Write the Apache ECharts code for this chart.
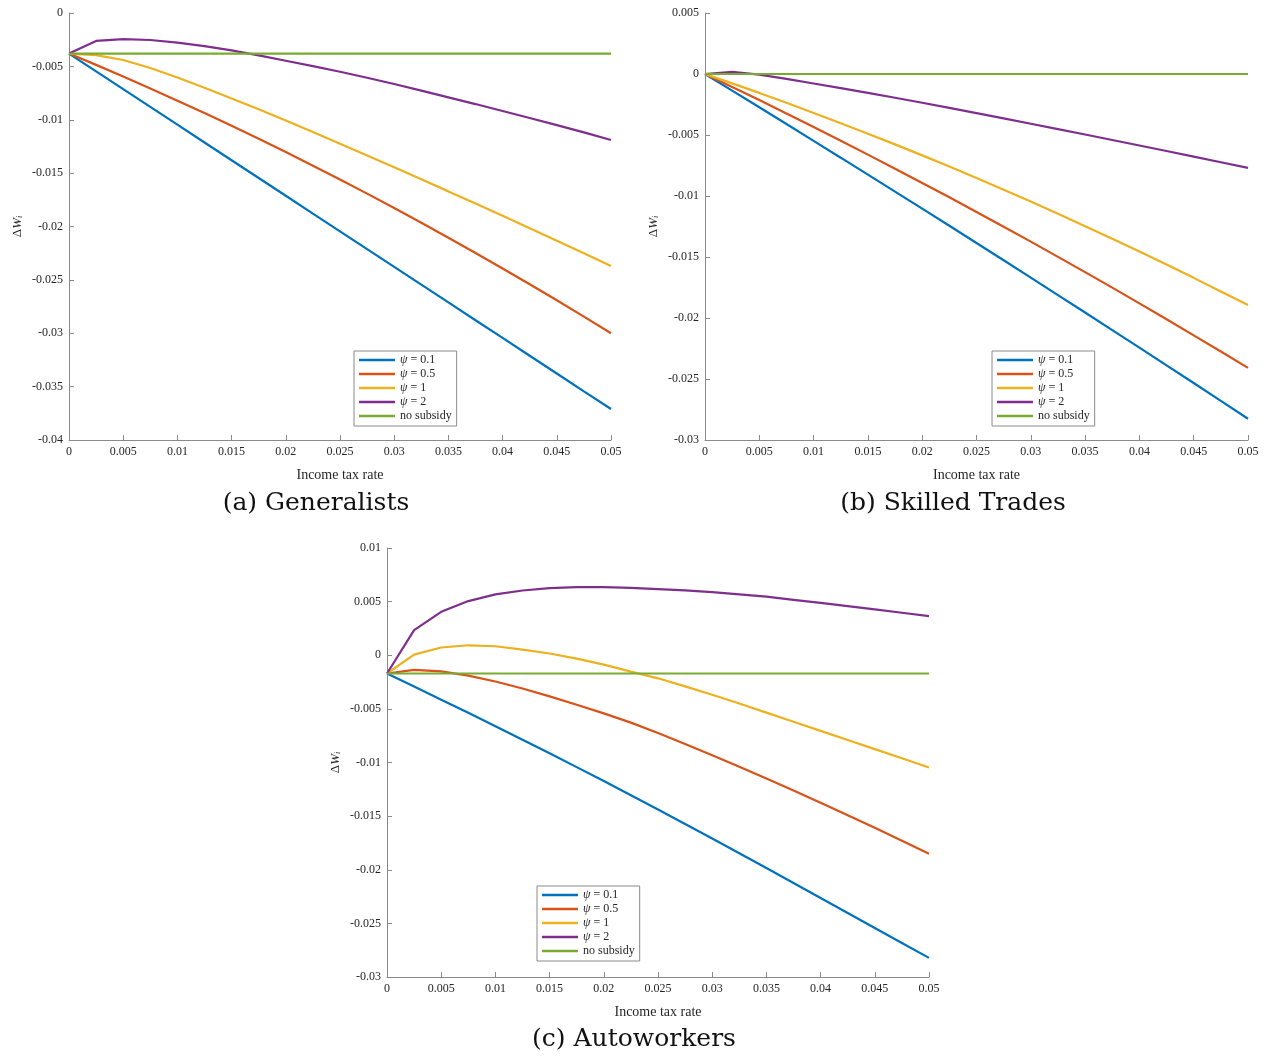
<!DOCTYPE html>
<html>
<head>
<meta charset="utf-8">
<script src="https://cdn.jsdelivr.net/npm/echarts@6/dist/echarts.min.js"></script>
<style>
  html, body { margin: 0; padding: 0; background: #fff; }
  #chart { width: 1270px; height: 1057px; }
</style>
</head>
<body>
<div id="chart"></div>
<script>
// Income tax rate grid (x values shared by every panel)
const taxRate = [0, 0.0025, 0.005, 0.0075, 0.01, 0.0125, 0.015, 0.0175, 0.02, 0.0225, 0.025,
                 0.0275, 0.03, 0.0325, 0.035, 0.0375, 0.04, 0.0425, 0.045, 0.0475, 0.05];

const seriesNames = ['ψ = 0.1', 'ψ = 0.5', 'ψ = 1', 'ψ = 2', 'no subsidy'];
const seriesColors = ['#0072BD', '#D95319', '#EDB120', '#7E2F8E', '#77AC30'];

// (a) Generalists
const genPsi01 = [-0.0038, -0.00547, -0.00713, -0.00880, -0.01046, -0.01213, -0.01379, -0.01546, -0.01712, -0.01879, -0.02045,
                  -0.02212, -0.02378, -0.02545, -0.02711, -0.02878, -0.03044, -0.03211, -0.03377, -0.03544, -0.0371];
const genPsi05 = [-0.0038, -0.00486, -0.00595, -0.00707, -0.00821, -0.00937, -0.01057, -0.01179, -0.01303, -0.01430, -0.01560,
                  -0.01692, -0.01827, -0.01965, -0.02105, -0.02248, -0.02393, -0.02541, -0.02691, -0.02844, -0.0300];
const genPsi1  = [-0.0038, -0.00395, -0.00440, -0.00515, -0.00605, -0.00700, -0.00800, -0.00902, -0.01007, -0.01115, -0.01225,
                  -0.01335, -0.01446, -0.01558, -0.01671, -0.01785, -0.01900, -0.02016, -0.02133, -0.02251, -0.0237];
const genPsi2  = [-0.0038, -0.00262, -0.00244, -0.00253, -0.00278, -0.00310, -0.00350, -0.00397, -0.00447, -0.00498, -0.00550,
                  -0.00607, -0.00665, -0.00727, -0.00790, -0.00853, -0.00918, -0.00984, -0.01050, -0.01118, -0.0119];
const genNone  = [-0.0038, -0.0038, -0.0038, -0.0038, -0.0038, -0.0038, -0.0038, -0.0038, -0.0038, -0.0038, -0.0038,
                  -0.0038, -0.0038, -0.0038, -0.0038, -0.0038, -0.0038, -0.0038, -0.0038, -0.0038, -0.0038];

// (b) Skilled Trades
const sklPsi01 = [0, -0.00136, -0.00273, -0.00410, -0.00548, -0.00686, -0.00825, -0.00964, -0.01104, -0.01244, -0.01385,
                  -0.01527, -0.01669, -0.01812, -0.01955, -0.02099, -0.02243, -0.02388, -0.02533, -0.02679, -0.02826];
const sklPsi05 = [0, -0.00106, -0.00214, -0.00324, -0.00434, -0.00547, -0.00661, -0.00776, -0.00893, -0.01011, -0.01131,
                  -0.01252, -0.01374, -0.01499, -0.01624, -0.01751, -0.01880, -0.02010, -0.02142, -0.02275, -0.02409];
const sklPsi1  = [0, -0.00077, -0.00155, -0.00236, -0.00319, -0.00403, -0.00489, -0.00577, -0.00667, -0.00759, -0.00853,
                  -0.00948, -0.01046, -0.01145, -0.01247, -0.01350, -0.01455, -0.01562, -0.01671, -0.01782, -0.01894];
const sklPsi2  = [0, 0.00018, -0.00005, -0.00040, -0.00078, -0.00116, -0.00155, -0.00195, -0.00236, -0.00278, -0.00321,
                  -0.00364, -0.00408, -0.00452, -0.00496, -0.00541, -0.00586, -0.00631, -0.00677, -0.00723, -0.0077];
const sklNone  = [0, 0, 0, 0, 0, 0, 0, 0, 0, 0, 0, 0, 0, 0, 0, 0, 0, 0, 0, 0, 0];

// (c) Autoworkers
const autPsi01 = [-0.0017, -0.00292, -0.00414, -0.00537, -0.00661, -0.00787, -0.00914, -0.01043, -0.01173, -0.01305, -0.01438,
                  -0.01573, -0.01709, -0.01846, -0.01984, -0.02123, -0.02263, -0.02403, -0.02543, -0.02683, -0.02822];
const autPsi05 = [-0.0017, -0.00137, -0.00150, -0.00190, -0.00245, -0.00310, -0.00383, -0.00461, -0.00542, -0.00628, -0.00725,
                  -0.00827, -0.00932, -0.01039, -0.01149, -0.01261, -0.01375, -0.01491, -0.01609, -0.01729, -0.0185];
const autPsi1  = [-0.0017, 0.00006, 0.00072, 0.00093, 0.00084, 0.00053, 0.00016, -0.00031, -0.00087, -0.00153, -0.00215,
                  -0.00290, -0.00368, -0.00450, -0.00535, -0.00620, -0.00705, -0.00790, -0.00875, -0.00961, -0.01047];
const autPsi2  = [-0.0017, 0.00234, 0.00405, 0.00505, 0.00567, 0.00604, 0.00626, 0.00635, 0.00636, 0.00628, 0.00617,
                  0.00604, 0.00588, 0.00568, 0.00546, 0.00517, 0.00488, 0.00458, 0.00428, 0.00396, 0.00364];
const autNone  = [-0.0017, -0.0017, -0.0017, -0.0017, -0.0017, -0.0017, -0.0017, -0.0017, -0.0017, -0.0017, -0.0017,
                  -0.0017, -0.0017, -0.0017, -0.0017, -0.0017, -0.0017, -0.0017, -0.0017, -0.0017, -0.0017];

// Panel captions and y ranges
const captions = ['(a) Generalists', '(b) Skilled Trades', '(c) Autoworkers'];
const yRanges = [[-0.04, 0], [-0.03, 0.005], [-0.03, 0.01]];

const panels = [
  [genPsi01, genPsi05, genPsi1, genPsi2, genNone],
  [sklPsi01, sklPsi05, sklPsi1, sklPsi2, sklNone],
  [autPsi01, autPsi05, autPsi1, autPsi2, autNone]
];

const FONT = '"Liberation Serif", "DejaVu Serif", serif';
const CAPTION_FONT = '"DejaVu Serif", "Liberation Serif", serif';
const AXIS_GRAY = '#8a8a8a';
const LABEL_COLOR = '#262626';

const grids = [
  { left: 69, top: 13, width: 542, height: 427 },
  { left: 705, top: 13, width: 543, height: 427 },
  { left: 387, top: 548, width: 542, height: 429 }
];

const legendPos = [
  { left: 354, top: 351 },
  { left: 992, top: 351 },
  { left: 537, top: 886 }
];

const fmt = v => String(parseFloat(v.toFixed(4)));

const xAxes = grids.map((g, i) => ({
  type: 'value', gridIndex: i, min: 0, max: 0.05, interval: 0.005,
  name: 'Income tax rate', nameLocation: 'middle', nameGap: 28,
  nameTextStyle: { fontFamily: FONT, fontSize: 14, color: LABEL_COLOR },
  axisLine: { show: true, onZero: false, lineStyle: { color: AXIS_GRAY, width: 1 } },
  axisTick: { show: true, inside: true, length: 5, lineStyle: { color: AXIS_GRAY } },
  axisLabel: { fontFamily: FONT, fontSize: 12, color: LABEL_COLOR, margin: 6, formatter: fmt },
  splitLine: { show: false }
}));

const yAxes = grids.map((g, i) => ({
  type: 'value', gridIndex: i, min: yRanges[i][0], max: yRanges[i][1], interval: 0.005,
  name: '{d|Δ}{w|W}{s|i}', nameLocation: 'middle', nameGap: 45, nameRotate: 90,
  nameTextStyle: {
    fontFamily: FONT, color: LABEL_COLOR,
    rich: {
      d: { fontFamily: FONT, fontSize: 13, color: LABEL_COLOR },
      w: { fontFamily: FONT, fontSize: 13, fontStyle: 'italic', color: LABEL_COLOR },
      s: { fontFamily: FONT, fontSize: 8, fontStyle: 'italic', color: LABEL_COLOR, verticalAlign: 'bottom', padding: [4, 0, 0, 0] }
    }
  },
  axisLine: { show: true, onZero: false, lineStyle: { color: AXIS_GRAY, width: 1 } },
  axisTick: { show: true, inside: true, length: 5, lineStyle: { color: AXIS_GRAY } },
  axisLabel: { fontFamily: FONT, fontSize: 12, color: LABEL_COLOR, margin: 6, formatter: fmt },
  splitLine: { show: false }
}));

const series = [];
panels.forEach((vals, p) => {
  vals.forEach((arr, k) => {
    series.push({
      type: 'line',
      name: seriesNames[k],
      xAxisIndex: p, yAxisIndex: p,
      data: taxRate.map((x, j) => [x, arr[j]]),
      showSymbol: false,
      symbol: 'none',
      smooth: false,
      lineStyle: { color: seriesColors[k], width: 2.2 },
      itemStyle: { color: seriesColors[k] },
      emphasis: { disabled: true },
      z: 2 + k
    });
  });
});

const legends = legendPos.map(pos => ({
  orient: 'vertical',
  left: pos.left, top: pos.top,
  data: seriesNames,
  icon: 'rect',
  itemWidth: 36, itemHeight: 2.5, itemGap: 0,
  padding: [2, 5, 3, 5],
  backgroundColor: '#fff',
  borderColor: '#8a8a8a', borderWidth: 1, borderRadius: 0,
  selectedMode: false,
  formatter: name => name.charAt(0) === 'ψ' ? '{i|ψ}' + name.slice(1) : name,
  textStyle: {
    fontFamily: FONT, fontSize: 12, color: LABEL_COLOR, lineHeight: 14,
    rich: { i: { fontFamily: FONT, fontSize: 12, fontStyle: 'italic', color: LABEL_COLOR, lineHeight: 14 } }
  }
}));

const captionPos = [[316, 503], [953, 503], [634, 1039]];
const graphics = captions.map((c, i) => ({
  type: 'text',
  x: captionPos[i][0], y: captionPos[i][1],
  style: {
    text: c, fontFamily: CAPTION_FONT, fontSize: 25, fill: '#111',
    textAlign: 'center', textVerticalAlign: 'middle'
  }
}));

const chart = echarts.init(document.getElementById('chart'), null, { renderer: 'canvas' });
chart.setOption({
  backgroundColor: '#fff',
  animation: false,
  grid: grids,
  xAxis: xAxes,
  yAxis: yAxes,
  legend: legends,
  graphic: graphics,
  series: series
});
</script>
</body>
</html>
